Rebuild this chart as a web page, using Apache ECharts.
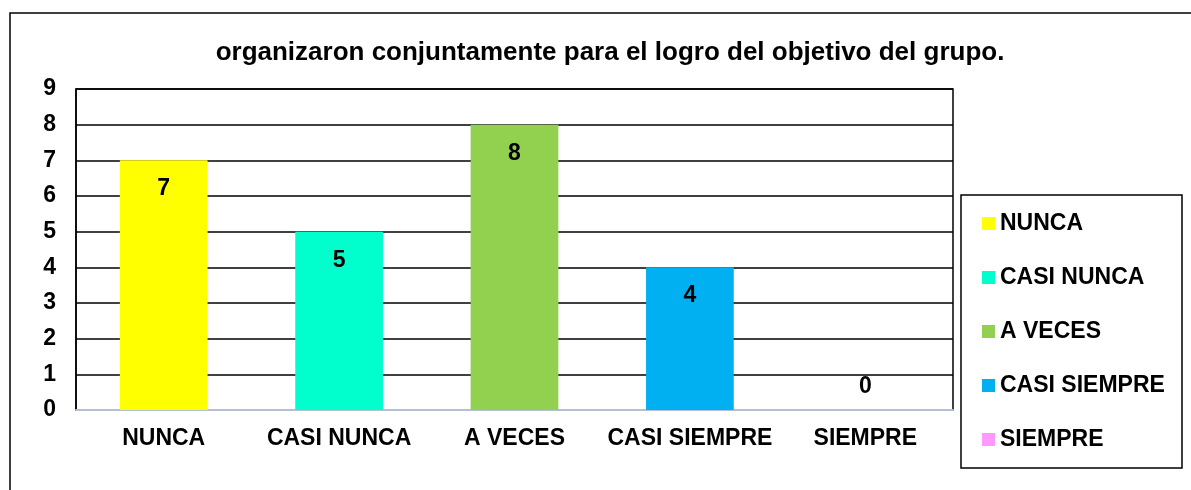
<!DOCTYPE html>
<html>
<head>
<meta charset="utf-8">
<script src="https://cdn.jsdelivr.net/npm/echarts@6/dist/echarts.min.js"></script>
<style>
  html, body { margin: 0; padding: 0; background: #fff; }
  #main { width: 1191px; height: 490px; }
</style>
</head>
<body>
<div id="main"></div>
<script>
// datos del grafico
const categorias = ['NUNCA', 'CASI NUNCA', 'A VECES', 'CASI SIEMPRE', 'SIEMPRE'];
const valores = [7, 5, 8, 4, 0];
const colores = ['#ffff00', '#00ffcc', '#92d050', '#00b0f0', '#ff99ff'];
const tituloTexto = 'organizaron conjuntamente para el logro del objetivo del grupo.';

const fuente = '"Liberation Sans", Arial, sans-serif';

// una serie por categoria para que la leyenda tenga cada color
let series = categorias.map(function (cat, i) {
  return {
    name: cat,
    type: 'bar',
    barWidth: '50%',
    barGap: '-100%',
    itemStyle: { color: colores[i] },
    label: {
      show: true,
      position: valores[i] > 0 ? 'insideTop' : 'top',
      distance: valores[i] > 0 ? 17 : 12,
      color: '#000',
      fontFamily: fuente,
      fontWeight: 'bold',
      fontSize: 23
    },
    data: categorias.map(function (c, j) { return j === i ? valores[i] : '-'; })
  };
});

let myChart = echarts.init(document.getElementById('main'));
let option = {
  animation: false,
  backgroundColor: '#fff',
  title: {
    text: tituloTexto,
    left: 605,
    textAlign: 'center',
    top: 35,
    textStyle: { fontFamily: fuente, fontWeight: 'bold', fontSize: 26, color: '#000' }
  },
  graphic: [
    {
      type: 'rect',
      shape: { x: 10, y: 13, width: 1200, height: 500 },
      style: { fill: 'none', stroke: '#000', lineWidth: 1.5 },
      z: 0
    },
    {
      type: 'rect',
      shape: { x: 961, y: 195, width: 221, height: 273 },
      style: { fill: 'none', stroke: '#000', lineWidth: 1.5 },
      z: 0
    }
  ],
  legend: {
    orient: 'vertical',
    left: 977,
    top: 207,
    itemWidth: 13,
    itemHeight: 13,
    itemGap: 31,
    icon: 'rect',
    textStyle: { fontFamily: fuente, fontWeight: 'bold', fontSize: 23, color: '#000' },
    data: categorias
  },
  grid: {
    left: 76,
    right: 238,
    top: 89,
    bottom: 80,
    show: true,
    borderColor: '#000',
    borderWidth: 1.5
  },
  xAxis: {
    type: 'category',
    data: categorias,
    axisLine: { lineStyle: { color: '#b4c0d4', width: 2 } },
    axisTick: { show: false },
    axisLabel: {
      interval: 0,
      margin: 17,
      color: '#000',
      fontFamily: fuente,
      fontWeight: 'bold',
      fontSize: 23
    }
  },
  yAxis: {
    type: 'value',
    min: 0,
    max: 9,
    interval: 1,
    axisLine: { show: true, lineStyle: { color: '#000', width: 1.5 } },
    axisTick: { show: false },
    splitLine: { lineStyle: { color: '#000', width: 1.5 } },
    axisLabel: {
      margin: 20,
      color: '#000',
      fontFamily: fuente,
      fontWeight: 'bold',
      fontSize: 23
    }
  },
  series: series
};
myChart.setOption(option);
</script>
</body>
</html>
